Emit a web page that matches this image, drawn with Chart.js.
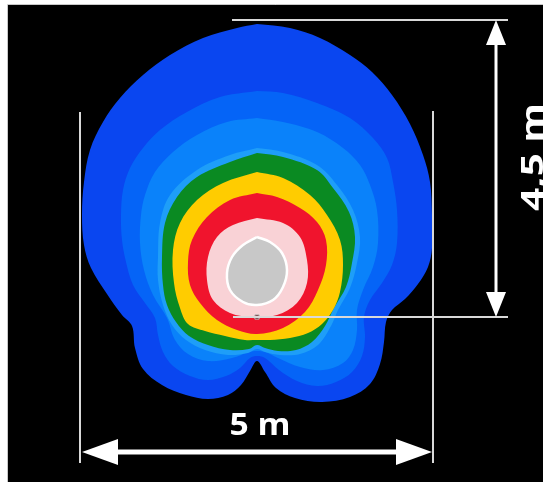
<!DOCTYPE html>
<html>
<head>
<meta charset="utf-8">
<style>
  html, body { margin: 0; padding: 0; background: #ffffff; overflow: hidden; }
  #wrap { position: absolute; left: 0; top: 0; width: 543px; height: 482px; }
</style>
<script src="https://cdn.jsdelivr.net/npm/chart.js@4/dist/chart.umd.min.js"></script>
</head>
<body>
<div id="wrap"><canvas id="c" width="543" height="482"></canvas></div>
<script>
// ---------- DATA (contour outlines in reference grid units, x right / y down) ----------
const outerBlue = [[257,24],[290,28],[320,38],[350,55],[372,72],[392,95],[410,124],[423,155],[430,182],[432,215],[432,248],[428,267],[418,284],[405,299],[392,310],[386,322],[384,342],[380,364],[370,384],[350,397],[322,402],[295,398],[276,388],[265,372],[257,361],[250,371],[241,385],[228,395],[208,399],[186,395],[162,385],[143,369],[135,348],[132,326],[122,315],[107,294],[91,268],[84,245],[82,215],[84,182],[90,150],[103,122],[120,98],[143,75],[170,55],[203,38],[237,28]];
const midBlue = [[257,91],[283,93],[317,103],[350,118],[373,138],[387,158],[393,182],[397,210],[397,243],[392,265],[382,283],[370,300],[364,317],[365,337],[362,356],[352,372],[336,382],[317,386],[297,381],[279,370],[265,358],[257,356],[250,358],[240,368],[226,376],[208,380],[190,376],[173,366],[163,352],[158,335],[155,318],[145,303],[133,285],[126,262],[122,240],[121,215],[123,190],[130,168],[143,148],[160,130],[187,112],[220,97]];
const lightBlue = [[257,118],[283,122],[317,132],[343,148],[360,165],[370,185],[377,210],[378,243],[373,267],[363,290],[357,310],[357,330],[353,350],[343,363],[323,370],[300,367],[278,358],[265,352],[257,351],[249,352],[232,358],[208,361],[188,354],[175,340],[167,318],[153,295],[144,270],[140,243],[141,215],[145,195],[155,172],[173,152],[197,135],[227,122]];
const cyanRing = [[257,148],[283,152],[317,165],[337,185],[353,210],[360,237],[357,263],[350,288],[338,310],[331,326],[318,345],[300,354],[280,355],[265,352],[257,349],[248,353],[228,355],[205,350],[186,340],[172,325],[163,305],[158,280],[158,257],[160,223],[170,195],[197,170],[230,155]];
const greenBand = [[257,153],[283,157],[317,170],[333,188],[349,212],[355,237],[352,263],[346,287],[334,308],[325,326],[312,342],[296,350],[278,351],[265,348],[257,345],[249,349],[230,350],[208,345],[189,336],[176,322],[167,305],[163,285],[162,257],[165,223],[177,197],[197,177],[230,162]];
const yellowBand = [[257,172],[283,178],[310,195],[327,215],[340,240],[343,265],[340,292],[333,310],[322,324],[308,333],[290,338],[270,340],[257,340],[245,340],[225,336],[205,331],[188,324],[180,308],[174,283],[173,250],[180,223],[197,200],[223,183]];
const redBand = [[257,193],[277,197],[300,208],[317,222],[326,240],[326,265],[318,290],[305,312],[283,328],[257,334],[237,330],[217,320],[200,303],[190,285],[188,262],[192,240],[207,217],[230,200]];
const pinkBand = [[257,218],[283,223],[300,237],[307,260],[307,283],[297,303],[277,315],[253,317],[230,313],[213,300],[207,280],[208,257],[217,237],[233,225]];
const grayCore = [[257,237],[270,242],[282,253],[287,270],[283,287],[273,300],[257,305],[243,302],[230,290],[227,273],[232,257],[243,245]];
const sourcePoint = [[257,317]];
const widthLabel = '5 m';
const heightLabel = '4,5 m';

// ---------- STYLE / LAYOUT ----------
const bandStyles = [
  { data: outerBlue,  color: '#0a46f0', border: 0 },
  { data: midBlue,    color: '#0564f7', border: 0 },
  { data: lightBlue,  color: '#0a82fa', border: 0 },
  { data: cyanRing,   color: '#1e9ef8', border: 0 },
  { data: greenBand,  color: '#0a8a22', border: 0 },
  { data: yellowBand, color: '#ffcc00', border: 0 },
  { data: redBand,    color: '#f0142d', border: 0 },
  { data: pinkBand,   color: '#f9d2d6', border: 0 },
  { data: grayCore,   color: '#c8c8c8', border: 2.5, borderColor: '#ffffff' }
];
const layout = {
  frame: { x0: 8, y0: 5, x1: 543, y1: 482 },
  thinLines: [[232,20,508,20],[80,112,80,463],[433,111,433,463]],
  topLine: [233,317,508,317],
  vArrow: { x: 496, y0: 20, y1: 317, head: 25, half: 10, w: 3 },
  hArrow: { y: 452, x0: 82, x1: 432, head: 36, half: 13, w: 5 },
  wText: { x: 260, y: 435, w: 61, size: 31 },
  hText: { x: 543, y: 157, w: 108, size: 30 }
};

function closed(pts) {
  const arr = pts.map(p => ({ x: p[0], y: p[1] }));
  arr.push({ x: pts[0][0], y: pts[0][1] });
  return arr;
}

const datasets = bandStyles.map((b, i) => ({
  type: 'line',
  data: closed(b.data),
  backgroundColor: b.color,
  borderColor: b.borderColor || b.color,
  borderWidth: b.border,
  fill: 'shape',
  tension: 0.35,
  pointRadius: 0,
  pointHoverRadius: 0,
  order: 20 - i
}));
datasets.push({
  type: 'scatter',
  data: sourcePoint.map(p => ({ x: p[0], y: p[1] })),
  pointStyle: 'rect',
  pointRadius: 3,
  pointHoverRadius: 3,
  backgroundColor: '#6a1018',
  borderColor: '#bbbbbb',
  borderWidth: 1,
  order: 0
});

const framePlugin = {
  id: 'framePlugin',
  beforeDraw(chart) {
    const ctx = chart.ctx, xs = chart.scales.x, ys = chart.scales.y, f = layout.frame;
    ctx.save();
    ctx.fillStyle = '#ffffff';
    ctx.fillRect(0, 0, chart.width, chart.height);
    const X0 = xs.getPixelForValue(f.x0), Y0 = ys.getPixelForValue(f.y0);
    const X1 = xs.getPixelForValue(f.x1), Y1 = ys.getPixelForValue(f.y1);
    ctx.fillStyle = '#000000';
    ctx.fillRect(X0, Y0, X1 - X0, Y1 - Y0);
    ctx.strokeStyle = '#c8c8c8';
    ctx.lineWidth = 1;
    ctx.beginPath();
    ctx.moveTo(X0 - 0.5, Y1); ctx.lineTo(X0 - 0.5, Y0 - 0.5); ctx.lineTo(X1, Y0 - 0.5);
    ctx.stroke();
    ctx.restore();
  }
};

const dimPlugin = {
  id: 'dimPlugin',
  afterDatasetsDraw(chart) {
    const ctx = chart.ctx, xs = chart.scales.x, ys = chart.scales.y;
    const px = v => xs.getPixelForValue(v), py = v => ys.getPixelForValue(v);
    ctx.save();
    ctx.strokeStyle = '#d9d9d9';
    ctx.lineWidth = 2;
    [...layout.thinLines, layout.topLine].forEach(s => {
      ctx.beginPath();
      ctx.moveTo(px(s[0]), py(s[1]));
      ctx.lineTo(px(s[2]), py(s[3]));
      ctx.stroke();
    });
    const va = layout.vArrow;
    ctx.fillStyle = '#ffffff';
    ctx.strokeStyle = '#ffffff';
    ctx.lineWidth = va.w;
    ctx.beginPath();
    ctx.moveTo(px(va.x), py(va.y0 + va.head - 2));
    ctx.lineTo(px(va.x), py(va.y1 - va.head + 2));
    ctx.stroke();
    ctx.beginPath();
    ctx.moveTo(px(va.x), py(va.y0));
    ctx.lineTo(px(va.x + va.half), py(va.y0 + va.head));
    ctx.lineTo(px(va.x - va.half), py(va.y0 + va.head));
    ctx.closePath(); ctx.fill();
    ctx.beginPath();
    ctx.moveTo(px(va.x), py(va.y1));
    ctx.lineTo(px(va.x + va.half), py(va.y1 - va.head));
    ctx.lineTo(px(va.x - va.half), py(va.y1 - va.head));
    ctx.closePath(); ctx.fill();
    const ha = layout.hArrow;
    ctx.lineWidth = ha.w;
    ctx.beginPath();
    ctx.moveTo(px(ha.x0 + ha.head - 2), py(ha.y));
    ctx.lineTo(px(ha.x1 - ha.head + 2), py(ha.y));
    ctx.stroke();
    ctx.beginPath();
    ctx.moveTo(px(ha.x0), py(ha.y));
    ctx.lineTo(px(ha.x0 + ha.head), py(ha.y - ha.half));
    ctx.lineTo(px(ha.x0 + ha.head), py(ha.y + ha.half));
    ctx.closePath(); ctx.fill();
    ctx.beginPath();
    ctx.moveTo(px(ha.x1), py(ha.y));
    ctx.lineTo(px(ha.x1 - ha.head), py(ha.y - ha.half));
    ctx.lineTo(px(ha.x1 - ha.head), py(ha.y + ha.half));
    ctx.closePath(); ctx.fill();
    const wt = layout.wText;
    ctx.font = 'bold ' + wt.size + 'px "Open Sans", "DejaVu Sans", sans-serif';
    ctx.textBaseline = 'alphabetic';
    ctx.textAlign = 'center';
    let m = ctx.measureText(widthLabel).width;
    ctx.save();
    ctx.translate(px(wt.x), py(wt.y));
    ctx.scale(wt.w / m, 1);
    ctx.fillText(widthLabel, 0, 0);
    ctx.restore();
    const ht = layout.hText;
    ctx.font = 'bold ' + ht.size + 'px "Open Sans", "DejaVu Sans", sans-serif';
    m = ctx.measureText(heightLabel).width;
    ctx.save();
    ctx.translate(px(ht.x), py(ht.y));
    ctx.rotate(-Math.PI / 2);
    ctx.scale(ht.w / m, 1);
    ctx.fillText(heightLabel, 0, 0);
    ctx.restore();
    ctx.restore();
  }
};

new Chart(document.getElementById('c'), {
  type: 'line',
  data: { datasets },
  options: {
    responsive: false,
    animation: false,
    events: [],
    layout: { padding: 0, autoPadding: false },
    scales: {
      x: { type: 'linear', min: 0, max: 543, display: false },
      y: { type: 'linear', min: 0, max: 482, reverse: true, display: false }
    },
    plugins: {
      legend: { display: false },
      tooltip: { enabled: false }
    }
  },
  plugins: [framePlugin, dimPlugin]
});
</script>
</body>
</html>
